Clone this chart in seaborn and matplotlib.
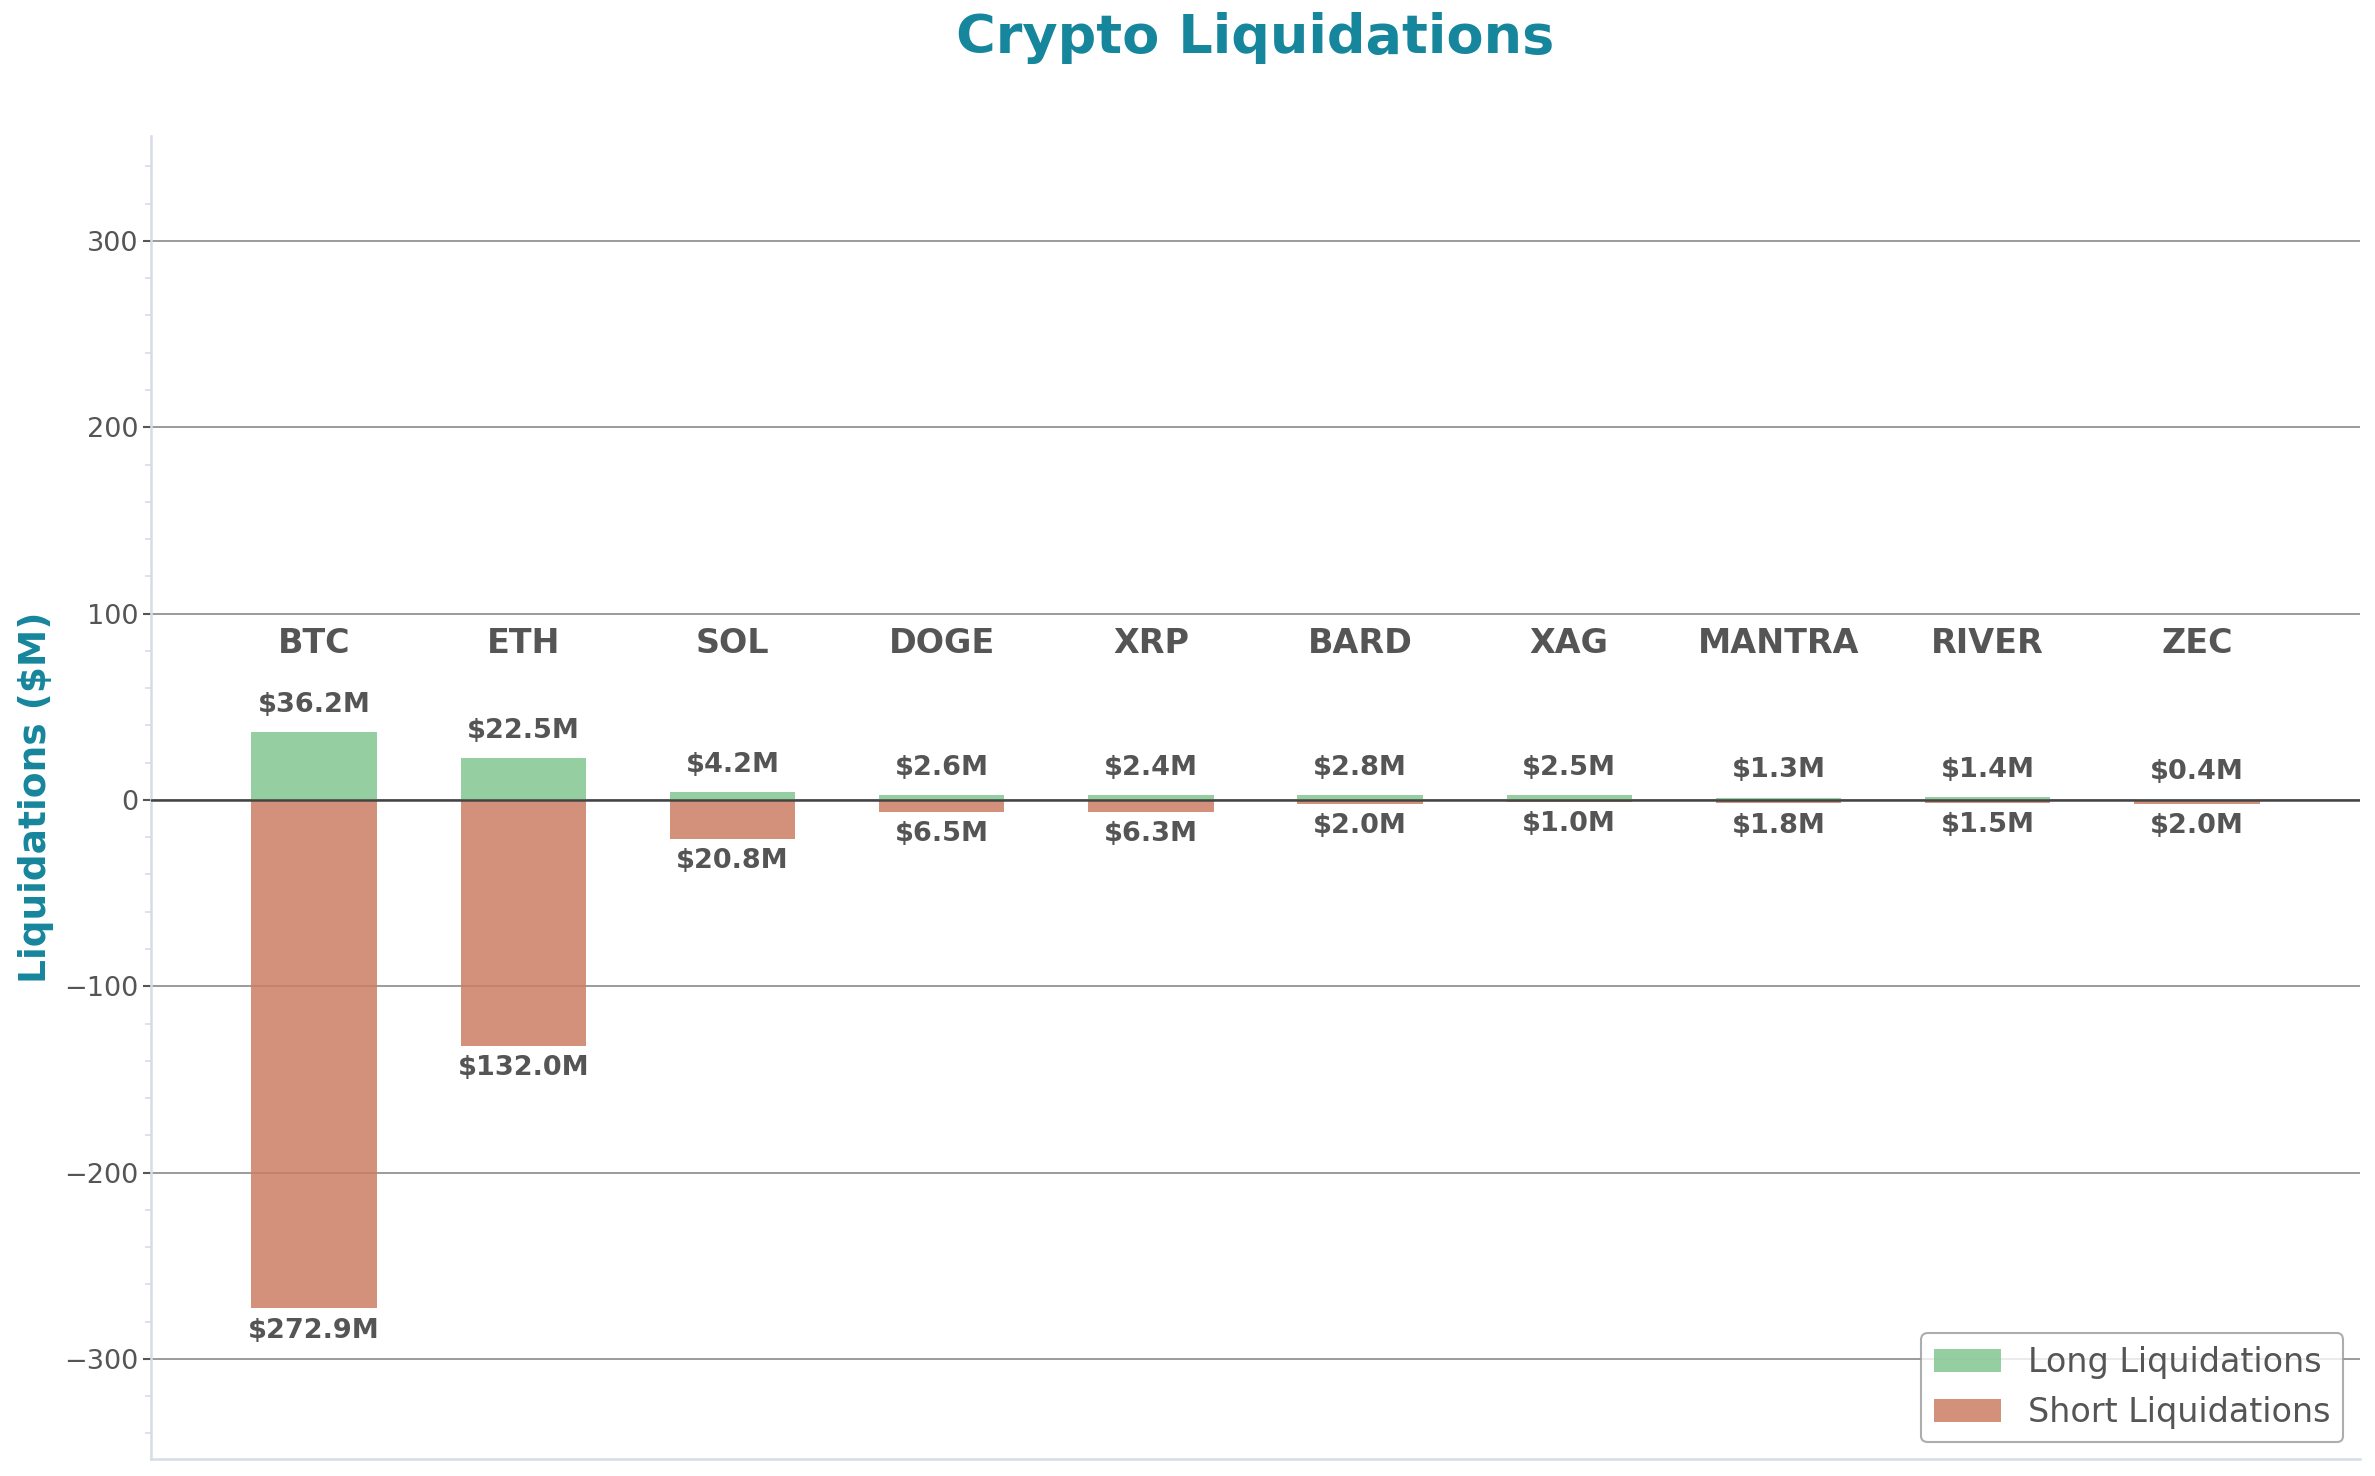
import seaborn as sns
import pandas as pd
import matplotlib.pyplot as plt
from matplotlib.ticker import AutoMinorLocator

# data ($M)
coins = ["BTC", "ETH", "SOL", "DOGE", "XRP", "BARD", "XAG", "MANTRA", "RIVER", "ZEC"]
long_liq = [36.2, 22.5, 4.2, 2.6, 2.4, 2.8, 2.5, 1.3, 1.4, 0.4]
short_liq = [272.9, 132.0, 20.8, 6.5, 6.3, 2.0, 1.0, 1.8, 1.5, 2.0]

df = pd.DataFrame({"coin": coins, "long": long_liq, "short": short_liq})
df["short_neg"] = -df["short"]

sns.set_theme(style="white")
plt.rcParams["font.family"] = ["DejaVu Sans"]

text_col = "#555555"
teal = "#16869c"

fig, ax = plt.subplots(figsize=(2375 / 150, 1476 / 150), dpi=150)
fig.subplots_adjust(left=151 / 2375, right=2360 / 2375, top=1 - 136 / 1476, bottom=1 - 1459 / 1476)

# grid first so bars sit on top
ax.set_axisbelow(True)
ax.yaxis.grid(True, color="#8a8a8a", linewidth=0.8)

sns.barplot(data=df, x="coin", y="long", color="#81c691", width=0.6, saturation=1,
            alpha=0.85, errorbar=None, label="Long Liquidations", ax=ax,
            linewidth=0, zorder=2)
sns.barplot(data=df, x="coin", y="short_neg", color="#cc7e64", width=0.6, saturation=1,
            alpha=0.85, errorbar=None, label="Short Liquidations", ax=ax,
            linewidth=0, zorder=2)

ax.axhline(0, color="#444444", linewidth=1.2, zorder=3)

# value labels
for i, (l, s) in enumerate(zip(long_liq, short_liq)):
    ax.text(i, l + 14.5, f"${l:.1f}M", ha="center", va="center",
            fontsize=13, fontweight="bold", color=text_col)
    ax.text(i, -s - 12, f"${s:.1f}M", ha="center", va="center",
            fontsize=13, fontweight="bold", color=text_col)
    ax.text(i, 84, coins[i], ha="center", va="center",
            fontsize=16, fontweight="bold", color=text_col)

ax.set_xlim(-0.78, 9.78)
ax.set_ylim(-353.7, 356.3)
ax.set_yticks(range(-300, 301, 100))
ax.yaxis.set_minor_locator(AutoMinorLocator(5))
ax.set_xticks([])
ax.set_xlabel("")
ax.tick_params(axis="y", which="major", left=True, length=4, width=1,
               color=text_col, labelsize=13, labelcolor=text_col, pad=2)
ax.tick_params(axis="y", which="minor", left=True, length=3, width=0.8, color="#d5dce8")

for side in ["top", "right"]:
    ax.spines[side].set_visible(False)
for side in ["left", "bottom"]:
    ax.spines[side].set_color("#d5dce8")
    ax.spines[side].set_linewidth(1.2)

ax.set_ylabel("Liquidations ($M)", fontsize=18, fontweight="bold", color=teal)
ax.yaxis.set_label_coords(-0.044, 0.5)

fig.text((151 + 2360) / 2 / 2375, 0.974, "Crypto Liquidations", ha="center", va="center",
         fontsize=26, fontweight="bold", color=teal)

leg = ax.legend(loc="lower right", fontsize=16, frameon=True)
leg.get_frame().set_edgecolor("#999999")
for t in leg.get_texts():
    t.set_color(text_col)

plt.savefig("out.png", dpi=150)
